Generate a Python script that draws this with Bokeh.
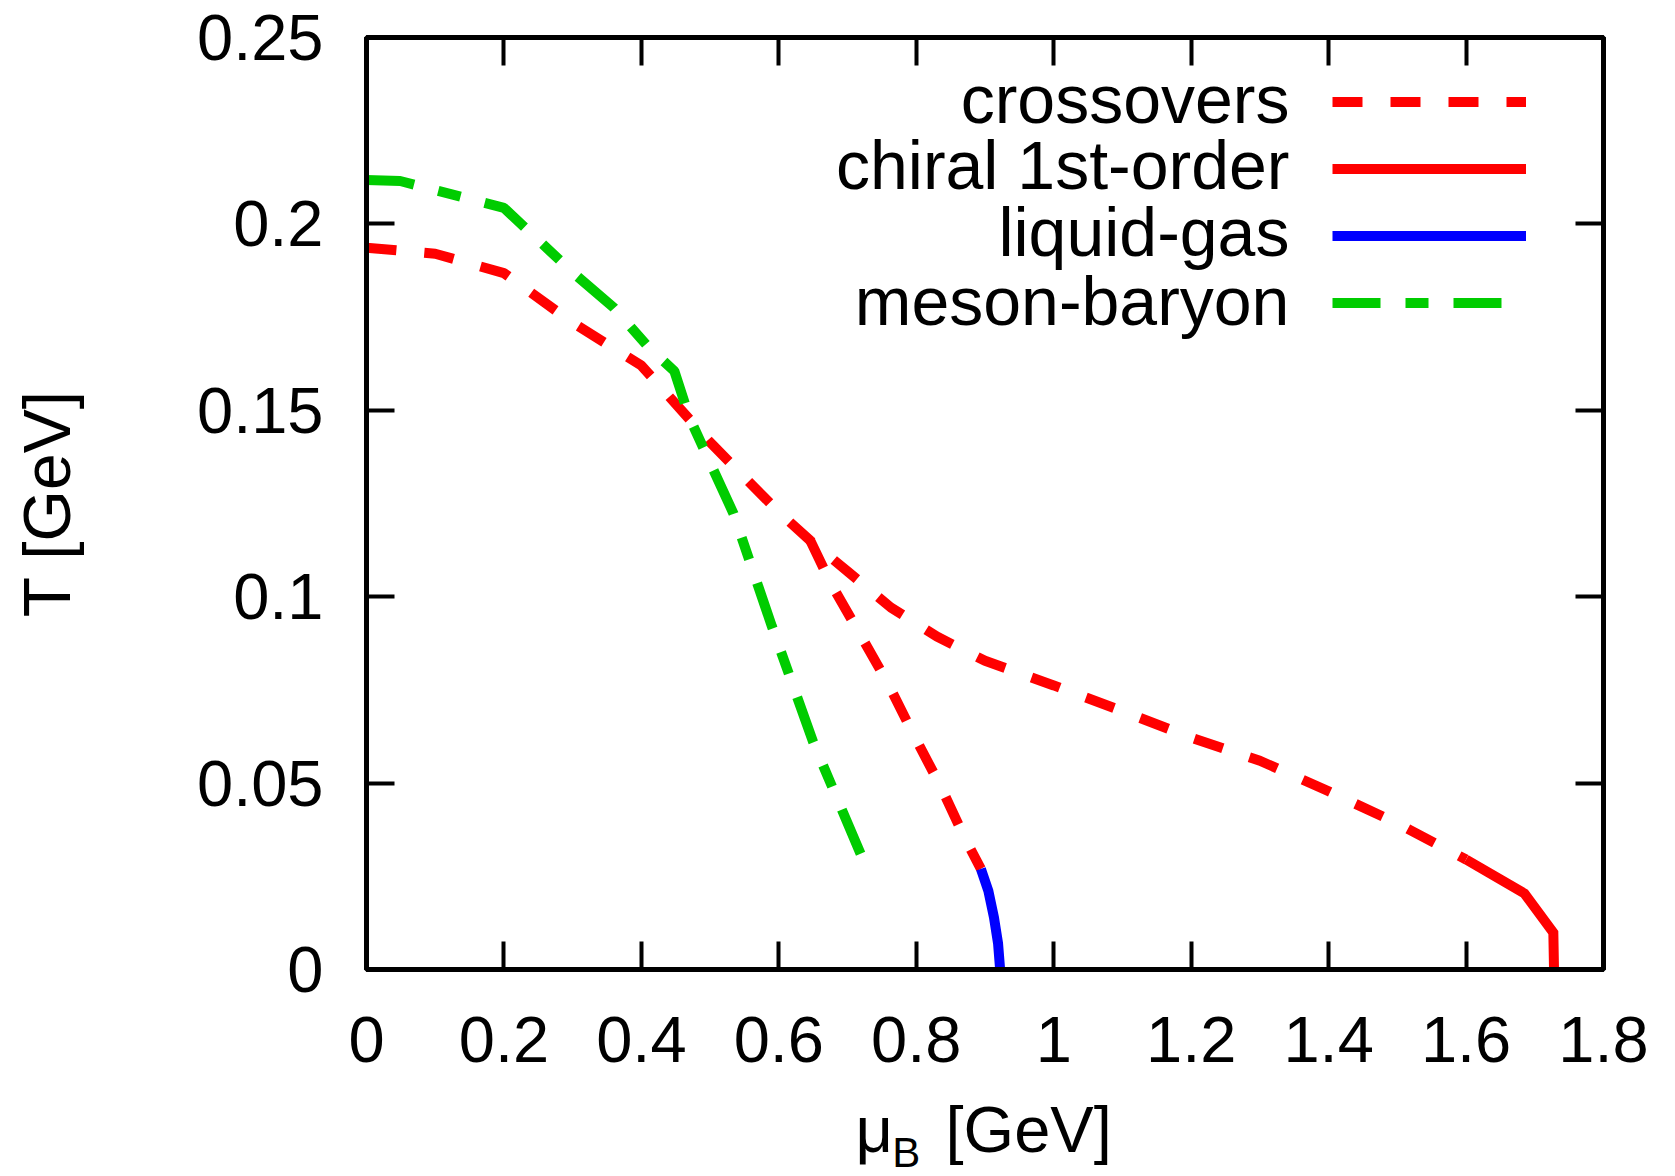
from bokeh.plotting import figure
from bokeh.layouts import column
from bokeh.models import (Range1d, FixedTicker, LinearAxis, CustomJSTickFormatter,
                          Legend, LegendItem, Label)
from bokeh.embed import file_html
from bokeh.resources import INLINE

# ---- data ----
cross_mu = [0.0, 0.1, 0.2, 0.3, 0.4, 0.5, 0.6, 0.646, 0.7, 0.763, 0.83, 0.9,
            1.0, 1.1, 1.2, 1.3, 1.4, 1.5, 1.6]
cross_T = [0.1936, 0.192, 0.1868, 0.1735, 0.162, 0.1414, 0.1227, 0.115, 0.1068,
           0.0971, 0.0893, 0.0828, 0.0762, 0.0693, 0.0622, 0.056, 0.0478, 0.0392, 0.0295]
cross2_mu = [0.646, 0.675, 0.716, 0.758, 0.796, 0.835, 0.871, 0.894]
cross2_T = [0.115, 0.1038, 0.0906, 0.077, 0.063, 0.0493, 0.0351, 0.027]
chiral_mu = [1.6, 1.685, 1.727, 1.728]
chiral_T = [0.0295, 0.0204, 0.0099, 0.0]
lg_mu = [0.894, 0.905, 0.913, 0.919, 0.922]
lg_T = [0.027, 0.021, 0.014, 0.007, 0.0]
mb_mu = [0.0, 0.049, 0.2, 0.3, 0.36, 0.41, 0.448, 0.47, 0.534, 0.59, 0.65, 0.719]
mb_T = [0.2118, 0.2115, 0.2043, 0.187, 0.1775, 0.167, 0.1605, 0.148, 0.1223, 0.092, 0.061, 0.031]

x_ticks = [0, 0.2, 0.4, 0.6, 0.8, 1.0, 1.2, 1.4, 1.6, 1.8]
x_tick_labels = ["0", "0.2", "0.4", "0.6", "0.8", "1", "1.2", "1.4", "1.6", "1.8"]
y_ticks = [0, 0.05, 0.1, 0.15, 0.2, 0.25]
y_tick_labels = ["0", "0.05", "0.1", "0.15", "0.2", "0.25"]
legend_labels = ["crossovers", "chiral 1st-order", "liquid-gas", "meson-baryon"]

FONT = "Liberation Sans"
W = 1675
H_MAIN = 1091
H_XLABEL = 85
BORDER_L = 366
BORDER_R = 72

p = figure(width=W, height=H_MAIN, output_backend="svg", toolbar_location=None,
           x_range=Range1d(0, 1.8), y_range=Range1d(0, 0.25),
           min_border_left=BORDER_L, min_border_right=BORDER_R, min_border_top=37,
           min_border_bottom=H_MAIN - 969)
p.xgrid.visible = False
p.ygrid.visible = False
p.outline_line_color = "black"
p.outline_line_width = 5
p.background_fill_color = "white"
p.border_fill_color = "white"

p.add_layout(LinearAxis(), "above")
p.add_layout(LinearAxis(), "right")

blank = CustomJSTickFormatter(code="return ''")


def style_axis(ax, ticks):
    ax.ticker = FixedTicker(ticks=ticks)
    ax.axis_line_width = 5
    ax.axis_line_color = "black"
    ax.major_tick_in = 28
    ax.major_tick_out = 0
    ax.major_tick_line_width = 4
    ax.major_tick_line_color = "black"
    ax.minor_tick_line_color = None
    ax.major_label_text_font = FONT
    ax.major_label_text_font_size = "65px"
    ax.major_label_text_color = "black"


for ax in p.below:
    style_axis(ax, x_ticks)
    ax.major_label_overrides = dict(zip(x_ticks, x_tick_labels))
    ax.major_label_standoff = 47
for ax in p.above:
    style_axis(ax, x_ticks)
    ax.formatter = blank
    ax.major_label_standoff = 0
    ax.major_label_text_font_size = "1px"
for ax in p.left:
    style_axis(ax, y_ticks)
    ax.major_label_overrides = dict(zip(y_ticks, y_tick_labels))
    ax.major_label_standoff = 43
    ax.axis_label = "T [GeV]"
    ax.axis_label_text_font = FONT
    ax.axis_label_text_font_size = "66px"
    ax.axis_label_text_font_style = "normal"
    ax.axis_label_text_color = "black"
    ax.axis_label_standoff = 110
for ax in p.right:
    style_axis(ax, y_ticks)
    ax.formatter = blank
    ax.major_label_standoff = 0
    ax.major_label_text_font_size = "1px"

RED = "#ff0000"
BLUE = "#0000ff"
GREEN = "#00cc00"

r_cross = p.line(cross_mu, cross_T, line_color=RED, line_width=10, line_dash="30 28")
r_cross2 = p.line(cross2_mu, cross2_T, line_color=RED, line_width=10, line_dash="30 28")
r_chiral = p.line(chiral_mu, chiral_T, line_color=RED, line_width=10, line_join="miter")
r_lg = p.line(lg_mu, lg_T, line_color=BLUE, line_width=10)
r_mb = p.line(mb_mu, mb_T, line_color=GREEN, line_width=10, line_dash="48 25 23 25")

# legend keys (line samples); the legend texts are drawn right-aligned to their left
legend = Legend(
    items=[LegendItem(label="", renderers=[r_cross]),
           LegendItem(label="", renderers=[r_chiral]),
           LegendItem(label="", renderers=[r_lg]),
           LegendItem(label="", renderers=[r_mb])],
    location=(966, 633), orientation="vertical",
    glyph_width=194, glyph_height=67, label_height=67, label_width=0,
    label_standoff=0, label_text_font_size="1px",
    spacing=0, padding=0, margin=0,
    border_line_color=None, background_fill_alpha=0)
p.add_layout(legend)

legend_text_x = 1.343
legend_text_y = [0.2336, 0.2157, 0.1977, 0.1792]
for txt, ty in zip(legend_labels, legend_text_y):
    p.add_layout(Label(x=legend_text_x, y=ty, text=txt, text_font=FONT,
                       text_font_size="68px", text_align="right",
                       text_baseline="middle", text_color="black"))

# x-axis title strip (mu with subscript B), sharing the x scale of the main plot
p2 = figure(width=W, height=H_XLABEL, output_backend="svg", toolbar_location=None,
            x_range=p.x_range, y_range=Range1d(0, H_XLABEL),
            x_axis_location=None, y_axis_location=None,
            min_border_left=BORDER_L, min_border_right=BORDER_R,
            min_border_top=0, min_border_bottom=0)
p2.title_location = None
p2.xgrid.visible = False
p2.ygrid.visible = False
p2.outline_line_color = None
p2.background_fill_color = "white"
p2.border_fill_color = "white"
p2.add_layout(Label(x=0.7116, y=47, text="μ", text_font=FONT, text_font_size="65px",
                    text_align="left", text_baseline="middle", text_color="black"))
p2.add_layout(Label(x=0.765, y=24, text="B", text_font=FONT, text_font_size="42px",
                    text_align="left", text_baseline="middle", text_color="black"))
p2.add_layout(Label(x=0.8426, y=47, text="[GeV]", text_font=FONT, text_font_size="65px",
                    text_align="left", text_baseline="middle", text_color="black"))

layout = column(p, p2, spacing=0)
open("out.html", "w").write(file_html(layout, INLINE))
